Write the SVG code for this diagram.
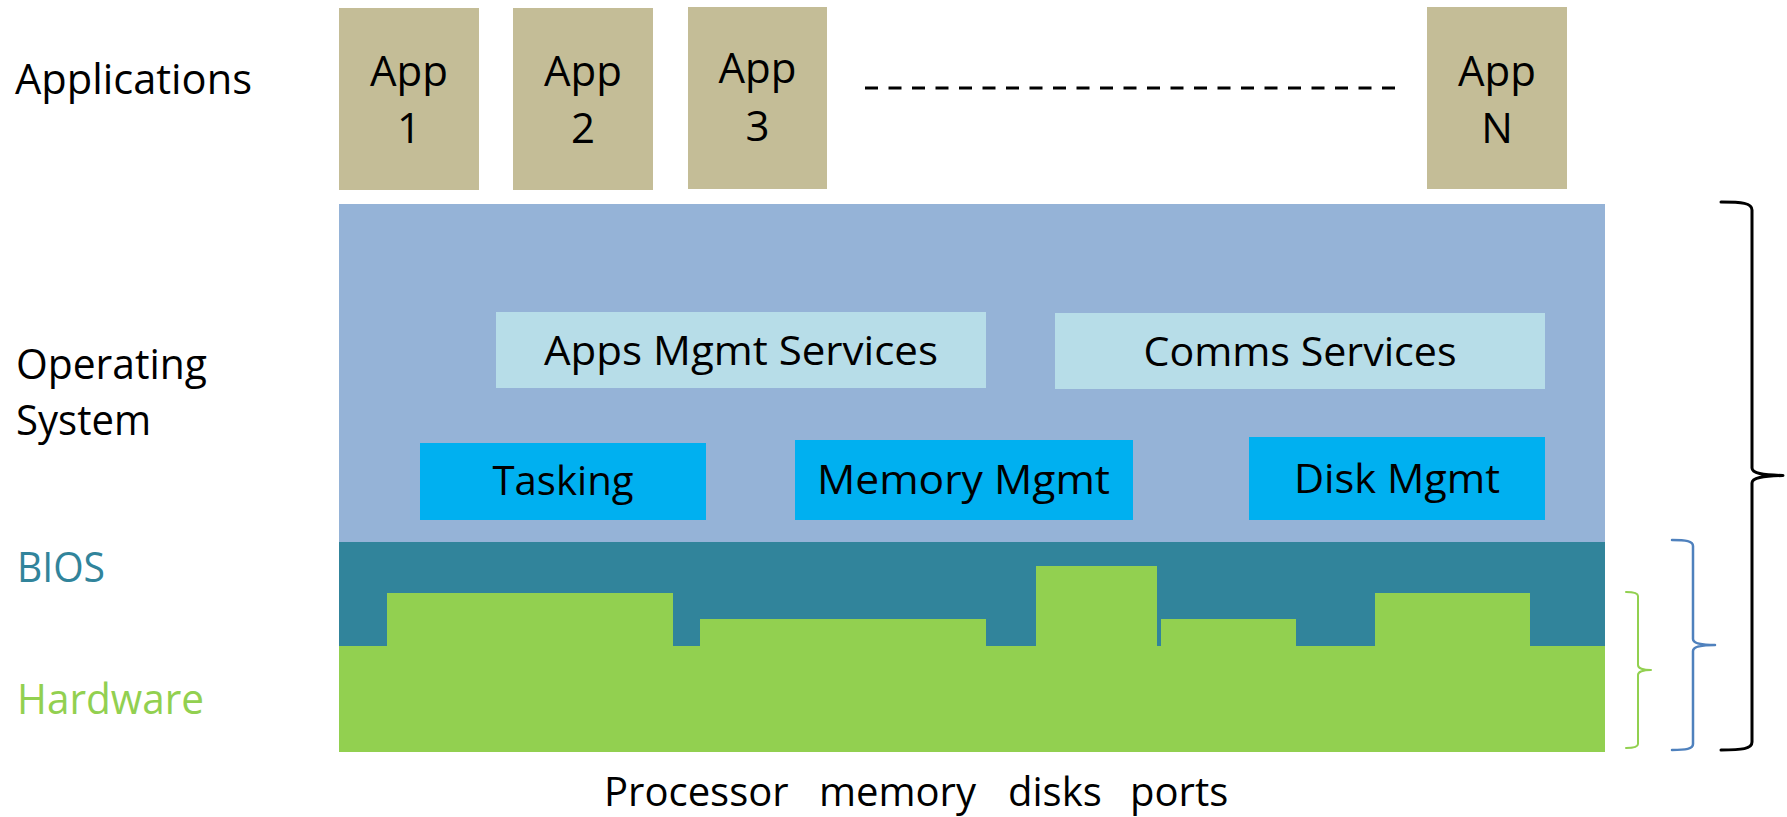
<svg xmlns="http://www.w3.org/2000/svg" width="1787" height="817" viewBox="0 0 1787 817">
<style>
text{font-family:"Open Sans","Noto Sans","Liberation Sans",sans-serif;fill:#000;}
.lbl{font-size:42px;}
.app{fill:#C4BD97;}
.appt{font-size:42px;text-anchor:middle;}
.svc{fill:#B7DDE8;}
.core{fill:#00B0F0;}
.boxt{font-size:41px;text-anchor:middle;}
.brace{fill:none;stroke-linecap:round;stroke-linejoin:round;}
</style>
<rect width="1787" height="817" fill="#fff"/>

<g id="labels">
<text class="lbl" x="15" y="94" textLength="237" lengthAdjust="spacingAndGlyphs">Applications</text>
<text class="lbl" x="16" y="379" textLength="191" lengthAdjust="spacingAndGlyphs">Operating</text>
<text class="lbl" x="16" y="435" textLength="135" lengthAdjust="spacingAndGlyphs">System</text>
<text class="lbl" x="17" y="582" textLength="88" lengthAdjust="spacingAndGlyphs" style="fill:#31849B">BIOS</text>
<text class="lbl" x="17" y="714" textLength="187" lengthAdjust="spacingAndGlyphs" style="fill:#92D050">Hardware</text>
</g>

<g id="app1">
<rect class="app" x="339" y="8" width="140" height="182"/>
<text class="appt" x="409" y="86">App</text>
<text class="appt" x="409" y="143">1</text>
</g>
<g id="app2">
<rect class="app" x="513" y="8" width="140" height="182"/>
<text class="appt" x="583" y="86">App</text>
<text class="appt" x="583" y="143">2</text>
</g>
<g id="app3">
<rect class="app" x="688" y="7" width="139" height="182"/>
<text class="appt" x="757.5" y="83">App</text>
<text class="appt" x="757.5" y="141">3</text>
</g>
<g id="appN">
<rect class="app" x="1427" y="7" width="140" height="182"/>
<text class="appt" x="1497" y="86">App</text>
<text class="appt" x="1497" y="143">N</text>
</g>

<g id="connectors">
<line x1="865" y1="88" x2="1396" y2="88" stroke="#000" stroke-width="3" stroke-dasharray="13 10.5"/>
</g>

<g id="os">
<rect x="339" y="204" width="1266" height="338" fill="#95B3D7"/>
</g>
<g id="apps-mgmt">
<rect class="svc" x="496" y="312" width="490" height="76"/>
<text class="boxt" x="741" y="365" textLength="394" lengthAdjust="spacingAndGlyphs">Apps Mgmt Services</text>
</g>
<g id="comms">
<rect class="svc" x="1055" y="313" width="490" height="76"/>
<text class="boxt" x="1300" y="366" textLength="313" lengthAdjust="spacingAndGlyphs">Comms Services</text>
</g>
<g id="tasking">
<rect class="core" x="420" y="443" width="286" height="77"/>
<text class="boxt" x="563" y="495" textLength="141" lengthAdjust="spacingAndGlyphs">Tasking</text>
</g>
<g id="memory-mgmt">
<rect class="core" x="795" y="440" width="338" height="80"/>
<text class="boxt" x="963.5" y="494" textLength="293" lengthAdjust="spacingAndGlyphs">Memory Mgmt</text>
</g>
<g id="disk-mgmt">
<rect class="core" x="1249" y="437" width="296" height="83"/>
<text class="boxt" x="1397" y="493" textLength="206" lengthAdjust="spacingAndGlyphs">Disk Mgmt</text>
</g>

<g id="bios">
<rect x="339" y="542" width="1266" height="104" fill="#31849B"/>
</g>
<g id="hardware">
<path fill="#92D050" d="M339,752 L339,646 L387,646 L387,593 L673,593 L673,646 L700,646 L700,619 L986,619 L986,646 L1036,646 L1036,566 L1157,566 L1157,646 L1161,646 L1161,619 L1296,619 L1296,646 L1375,646 L1375,593 L1530,593 L1530,646 L1605,646 L1605,752 Z"/>
<text x="0" y="806" style="font-size:40px"><tspan x="604">Processor</tspan> <tspan x="819">memory</tspan> <tspan x="1008">disks</tspan> <tspan x="1130">ports</tspan></text>
</g>

<g id="brackets">
<path class="brace" stroke="#000" stroke-width="3" d="M1721,202 C1742,202 1752,203 1752,210 L1752,468 C1752,473 1762,475 1783,475.5 C1762,476 1752,478 1752,483 L1752,742 C1752,749 1742,750 1721,750"/>
<path class="brace" stroke="#4F81BD" stroke-width="2.5" d="M1672,540 C1686,540 1693,541 1693,546 L1693,639 C1693,643 1700,645 1715,645 C1700,645 1693,647 1693,651 L1693,744 C1693,749 1686,750 1672,750"/>
<path class="brace" stroke="#92D050" stroke-width="2" d="M1626,592 C1634,592 1638,593 1638,596 L1638,665 C1638,668 1643,670 1651,670 C1643,670 1638,672 1638,675 L1638,744 C1638,747 1634,748 1626,748"/>
</g>
</svg>
